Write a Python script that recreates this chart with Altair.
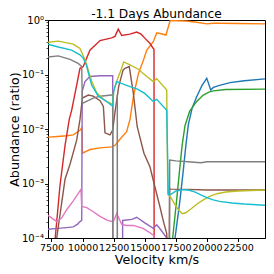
import altair as alt
import pandas as pd

# ---- data ----
series_names = ["C0", "C1", "C2", "C3", "C4", "C5", "C6", "C7", "C8", "C9"]
series_colors = ["#1f77b4", "#ff7f0e", "#2ca02c", "#d62728", "#9467bd",
                 "#8c564b", "#e377c2", "#7f7f7f", "#bcbd22", "#17becf"]

v_blue = [17300, 17430, 17830, 18100, 18300, 18500, 18800, 19170, 19600, 19980,
          20300, 20510, 21000, 21850, 23000, 24660]
a_blue = [1e-5, 1e-4, 5e-4, 0.0018, 0.005, 0.012, 0.024, 0.039, 0.063, 0.085,
          0.052, 0.058, 0.063, 0.071, 0.077, 0.083]

v_orange = [7220, 8000, 8700, 9250, 9790, 9940, 9990, 10600, 11400, 12340, 12600,
            13000, 13540, 13810, 14090, 14490, 14880, 15160, 15680, 15960, 16300,
            16700, 17030, 17500, 18300, 19000, 19980, 20500, 21050, 22500, 24660]
a_orange = [0.0071, 0.0073, 0.0075, 0.0078, 0.0095, 0.0105, 0.0036, 0.0042, 0.0045,
            0.0047, 0.005, 0.0065, 0.0089, 0.015, 0.04, 0.105, 0.18, 0.28, 0.40,
            0.58, 0.56, 0.53, 0.97, 0.97, 0.96, 0.92, 0.85, 0.87, 0.87, 0.86, 0.85]

v_green = [17120, 17240, 17560, 17800, 18000, 18230, 18600, 19170, 19700, 20200,
           20510, 21500, 24660]
a_green = [1e-5, 1e-4, 5e-4, 0.0018, 0.005, 0.0115, 0.021, 0.032, 0.042, 0.048,
           0.05, 0.053, 0.054]

v_red = [7770, 7800, 8180, 8590, 8930, 9120, 9500, 9790, 10050, 10590, 11400,
         12340, 12600, 12870, 13140, 13810, 14350, 14700, 15020, 15420, 15640,
         15740, 15760]
a_red = [5e-5, 1e-4, 9e-4, 0.005, 0.015, 0.022, 0.06, 0.13, 0.14, 0.28, 0.42,
         0.47, 0.5, 0.68, 0.52, 0.55, 0.6, 0.55, 0.46, 0.37, 0.31, 0.29, 1e-8]

v_purple = [7220, 8000, 8700, 9250, 9600, 9790, 9930, 9970, 10190, 10590, 11400,
            12420, 12460, 13180, 13220, 13960, 14350, 15000, 15680, 15960, 16300,
            16760, 16800]
a_purple = [1.45e-4, 1.5e-4, 1.55e-4, 1.6e-4, 1.8e-4, 2.0e-4, 2.1e-4, 0.049, 0.074,
            0.092, 0.095, 0.095, 1e-8, 1e-8, 2.1e-4, 2.2e-4, 2.4e-4, 1.9e-4,
            1.5e-4, 1.75e-4, 1.4e-4, 1e-4, 1e-8]

v_brown = [7900, 7920, 8320, 8590, 9000, 9530, 9790, 9990, 10460, 10860, 11400,
           11670, 11800, 12200, 12420, 12600, 12900, 13250, 13410, 13750, 14080,
           14390, 14930, 15420, 15700, 16220, 16500, 16760, 16850, 16960, 16990,
           17100, 18400, 20000, 24660]
a_brown = [5e-5, 1e-4, 4.4e-4, 0.0012, 0.0023, 0.0063, 0.015, 0.037, 0.042, 0.04,
           0.033, 0.026, 0.0085, 0.0078, 0.0095, 0.02, 0.06, 0.12, 0.13, 0.14,
           0.045, 0.011, 0.0036, 0.002, 0.0011, 3.7e-4, 2.0e-4, 1.2e-4, 5e-5,
           5e-5, 8e-4, 7.9e-4, 7.8e-4, 7.6e-4, 7.6e-4]

v_pink = [7220, 7920, 8300, 8720, 9250, 9870, 9930, 10330, 10800, 11400, 12000,
          12470, 12740, 13140, 13500, 14080, 14860, 15300, 15740, 15850]
a_pink = [2.6e-4, 2.0e-4, 2.3e-4, 3.3e-4, 4.8e-4, 7.8e-4, 3.8e-4, 3.6e-4, 3.1e-4,
          2.5e-4, 2.1e-4, 2.0e-4, 2.8e-4, 1.8e-4, 1.7e-4, 1.7e-4, 1.5e-4, 1.3e-4,
          1.1e-4, 5e-5]

v_gray = [7220, 8050, 8990, 9650, 9930, 9980, 10060, 10860, 11400, 12340, 12420,
          12440, 12770, 12790, 12810, 16970, 17000, 17500, 18500, 19500, 20000,
          24660]
a_gray = [0.21, 0.22, 0.19, 0.16, 0.14, 0.031, 0.030, 0.037, 0.04, 0.042, 0.043,
          1e-8, 1e-8, 0.043, 1e-8, 1e-8, 0.0027, 0.0026, 0.0025, 0.0024, 0.0025,
          0.0025]

v_olive = [7220, 8050, 9250, 9790, 10050, 10300, 10500, 10730, 11130, 11800, 12340,
           12420, 12500, 12740, 13140, 13300, 13810, 14480, 15160, 15680, 15960,
           16760, 16850, 17100, 17400, 17700, 18000, 18300, 18700, 19200, 19700,
           20200, 20800, 21500, 22500, 24660]
a_olive = [0.39, 0.41, 0.36, 0.30, 0.22, 0.16, 0.11, 0.075, 0.046, 0.033, 0.029,
           0.028, 0.05, 0.075, 0.13, 0.17, 0.15, 0.125, 0.092, 0.074, 0.084, 0.052,
           6.5e-4, 5.5e-4, 4.2e-4, 3.3e-4, 2.8e-4, 2.9e-4, 3.4e-4, 4.2e-4, 5.0e-4,
           5.8e-4, 6.5e-4, 7.0e-4, 7.3e-4, 7.6e-4]

v_cyan = [7220, 8050, 9120, 9790, 10050, 10300, 10500, 10730, 11260, 11940, 12340,
          12420, 12500, 12740, 13810, 14410, 14990, 15680, 15960, 16760, 16890,
          17100, 17500, 18000, 18500, 19000, 19500, 20000, 20500, 21000, 22000,
          23000, 24660]
a_cyan = [0.36, 0.32, 0.28, 0.23, 0.20, 0.15, 0.10, 0.064, 0.04, 0.032, 0.027,
          0.027, 0.05, 0.074, 0.06, 0.054, 0.045, 0.032, 0.035, 0.022, 6.2e-4,
          6.3e-4, 7.3e-4, 7.7e-4, 7.6e-4, 7.0e-4, 6.2e-4, 5.5e-4, 5.0e-4, 4.7e-4,
          4.4e-4, 4.2e-4, 4.0e-4]

x_ticks = [7500, 10000, 12500, 15000, 17500, 20000, 22500]
y_major = [1, 0.1, 0.01, 0.001, 0.0001]
y_minor = [m * 10.0 ** e for e in (-4, -3, -2, -1) for m in range(2, 10)]

# ---- build table ----
all_series = [(v_blue, a_blue), (v_orange, a_orange), (v_green, a_green),
              (v_red, a_red), (v_purple, a_purple), (v_brown, a_brown),
              (v_pink, a_pink), (v_gray, a_gray), (v_olive, a_olive),
              (v_cyan, a_cyan)]
rows = []
for name, (vs, as_) in zip(series_names, all_series):
    for i, (v, a) in enumerate(zip(vs, as_)):
        rows.append({"series": name, "velocity": v, "abundance": a, "idx": i})
df = pd.DataFrame(rows)

label_expr = ("datum.value == 1 ? '10⁰' : datum.value == 0.1 ? '10⁻¹' : "
              "datum.value == 0.01 ? '10⁻²' : datum.value == 0.001 ? '10⁻³' : "
              "datum.value == 0.0001 ? '10⁻⁴' : ''")
major_test = "indexof([1, 0.1, 0.01, 0.001, 0.0001], datum.value) >= 0"

chart = alt.Chart(df).mark_line(strokeWidth=1.4, clip=True).encode(
    x=alt.X("velocity:Q",
            scale=alt.Scale(domain=[7220, 24660], nice=False, zero=False),
            axis=alt.Axis(values=x_ticks, format="d", title="Velocity km/s",
                          grid=False, labelFlush=False, labelOverlap=False,
                          tickSize=3.5, labelPadding=1, titlePadding=1)),
    y=alt.Y("abundance:Q",
            scale=alt.Scale(type="log", domain=[1e-4, 1], nice=False),
            axis=alt.Axis(values=y_major + y_minor, labelExpr=label_expr,
                          title="Abundance (ratio)", grid=False,
                          labelOverlap=False, labelFlush=False,
                          labelFontSize=10,
                          tickSize={"condition": {"test": major_test, "value": 3.5}, "value": 2},
                          tickWidth={"condition": {"test": major_test, "value": 0.9}, "value": 0.7},
                          labelPadding=1, titlePadding=0)),
    color=alt.Color("series:N", scale=alt.Scale(domain=series_names, range=series_colors),
                    legend=None),
    order=alt.Order("idx:Q"),
).properties(
    width=217,
    height=218,
    title=alt.TitleParams("-1.1 Days Abundance", fontSize=12.2, font="DejaVu Sans",
                          fontWeight="normal", color="black", anchor="middle",
                          offset=-5),
    autosize=alt.AutoSizeParams(type="none"),
    padding={"left": 40, "top": 12, "right": 1, "bottom": 28},
).configure_view(
    stroke="black", strokeWidth=1
).configure_axis(
    labelFont="DejaVu Sans", titleFont="DejaVu Sans", labelFontSize=9.5,
    titleFontSize=12.7, titleFontWeight="normal", labelColor="black",
    titleColor="black", tickColor="black", domainColor="black", domainWidth=1,
)

chart.save("out.html", embed_options={"renderer": "svg", "actions": False})
